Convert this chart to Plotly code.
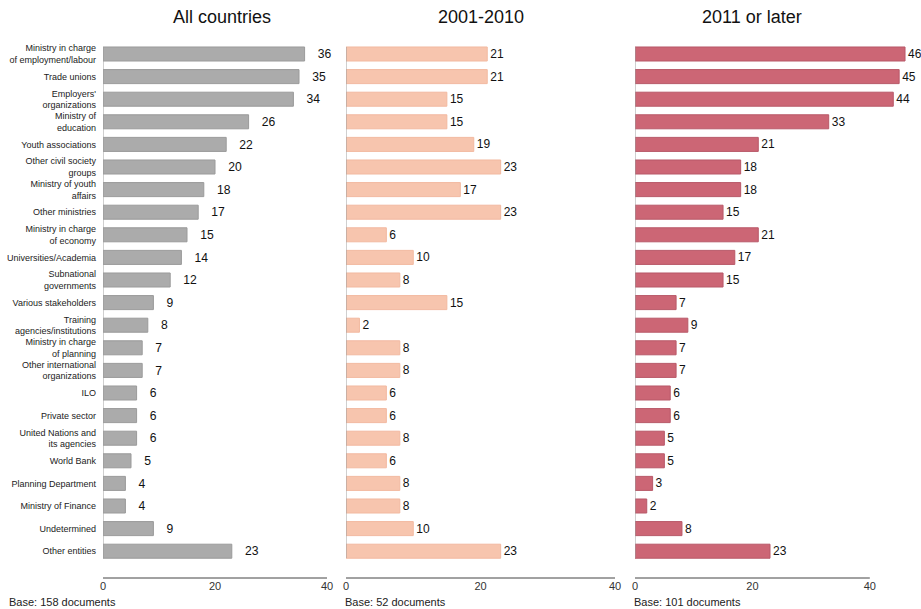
import plotly.graph_objects as go

categories = [
    "Ministry in charge<br>of employment/labour", "Trade unions", "Employers'<br>organizations",
    "Ministry of<br>education", "Youth associations", "Other civil society<br>groups",
    "Ministry of youth<br>affairs", "Other ministries", "Ministry in charge<br>of economy",
    "Universities/Academia", "Subnational<br>governments", "Various stakeholders",
    "Training<br>agencies/institutions", "Ministry in charge<br>of planning",
    "Other international<br>organizations", "ILO", "Private sector",
    "United Nations and<br>its agencies", "World Bank", "Planning Department",
    "Ministry of Finance", "Undetermined", "Other entities",
]
all_countries = [36, 35, 34, 26, 22, 20, 18, 17, 15, 14, 12, 9, 8, 7, 7, 6, 6, 6, 5, 4, 4, 9, 23]
p2001_2010 = [21, 21, 15, 15, 19, 23, 17, 23, 6, 10, 8, 15, 2, 8, 8, 6, 6, 8, 6, 8, 8, 10, 23]
p2011_later = [46, 45, 44, 33, 21, 18, 18, 15, 21, 17, 15, 7, 9, 7, 7, 6, 6, 5, 5, 3, 2, 8, 23]
titles = ["All countries", "2001-2010", "2011 or later"]
bases = ["Base: 158 documents", "Base: 52 documents", "Base: 101 documents"]
tick_vals = [0, 20, 40]

W, H = 921, 609
FONT = "Liberation Sans, Arial, sans-serif"

def px(v):
    return v / W

def py(v):
    return 1 - v / H

panels = [
    dict(vals=all_countries, color="#ABABAB", line="#9A9A9A", dom=(103, 327), rng=(0, 40),
         tmpl="   %{x}", tsize=13),
    dict(vals=p2001_2010, color="#F7C5AE", line="#F2B9A0", dom=(346, 615), rng=(0, 40),
         tmpl="%{x}", tsize=12),
    dict(vals=p2011_later, color="#CC6675", line="#B85868", dom=(635, 921), rng=(0, 286 / 5.87),
         tmpl="%{x}", tsize=12),
]

fig = go.Figure()
y_top_px, y_bot_px = 40, 578
row0, step = 54, 22.6
y_range = [(y_bot_px - row0) / step, (y_top_px - row0) / step]

annotations = []
shapes = []
for i, p in enumerate(panels):
    n = "" if i == 0 else str(i + 1)
    fig.add_trace(go.Bar(
        x=p["vals"], y=categories, orientation="h",
        marker=dict(color=p["color"], line=dict(color=p["line"], width=1)),
        width=0.62, text=p["vals"], texttemplate=p["tmpl"], textposition="outside",
        textfont=dict(size=p["tsize"], color="#111111", family=FONT),
        cliponaxis=False, xaxis="x" + n, yaxis="y" + n, showlegend=False,
        hoverinfo="x+y",
    ))
    fig.layout["xaxis" + n] = dict(
        domain=[px(p["dom"][0]), px(p["dom"][1])], range=list(p["rng"]),
        tickvals=tick_vals, showgrid=False, zeroline=False, showline=False,
        ticks="", tickfont=dict(size=11, color="#333333", family=FONT),
        anchor="y" + n, fixedrange=True, automargin=False,
    )
    fig.layout["yaxis" + n] = dict(
        domain=[py(y_bot_px), py(y_top_px)], range=y_range, type="category",
        showticklabels=(i == 0), showgrid=False, zeroline=False, showline=False,
        ticks="", tickfont=dict(size=9, color="#222222", family=FONT),
        anchor="x" + n, ticklabelstandoff=6, fixedrange=True, automargin=False,
    )
    # bottom axis line from 0 to 40
    shapes.append(dict(type="line", xref="x" + n, yref="paper", x0=0, x1=40,
                       y0=py(y_bot_px), y1=py(y_bot_px), line=dict(color="#444444", width=1)))
    # vertical axis line
    shapes.append(dict(type="line", xref="x" + n, yref="paper", x0=0, x1=0,
                       y0=py(47), y1=py(558), line=dict(color="#A0A0A0", width=1)))
    title_x = {0: 222, 1: 481, 2: 752}[i]
    annotations.append(dict(text=titles[i], xref="paper", yref="paper",
                            x=px(title_x), y=py(17), xanchor="center", yanchor="middle",
                            showarrow=False,
                            font=dict(size=18, color="#111111", family=FONT)))
    annotations.append(dict(text=bases[i], xref="paper", yref="paper",
                            x=px(8 if i == 0 else p["dom"][0] - 2), y=py(602),
                            xanchor="left", yanchor="middle", showarrow=False, borderpad=0,
                            font=dict(size=11, color="#222222", family=FONT)))

fig.update_layout(
    width=W, height=H, margin=dict(l=0, r=0, t=0, b=0, autoexpand=False),
    paper_bgcolor="white", plot_bgcolor="white",
    annotations=annotations, shapes=shapes, bargap=0.38,
    font=dict(family=FONT),
)
fig.write_html(
    "out.html",
    config={"displayModeBar": False},
    post_script="document.body.style.margin='0';document.body.style.overflow='hidden';",
)
